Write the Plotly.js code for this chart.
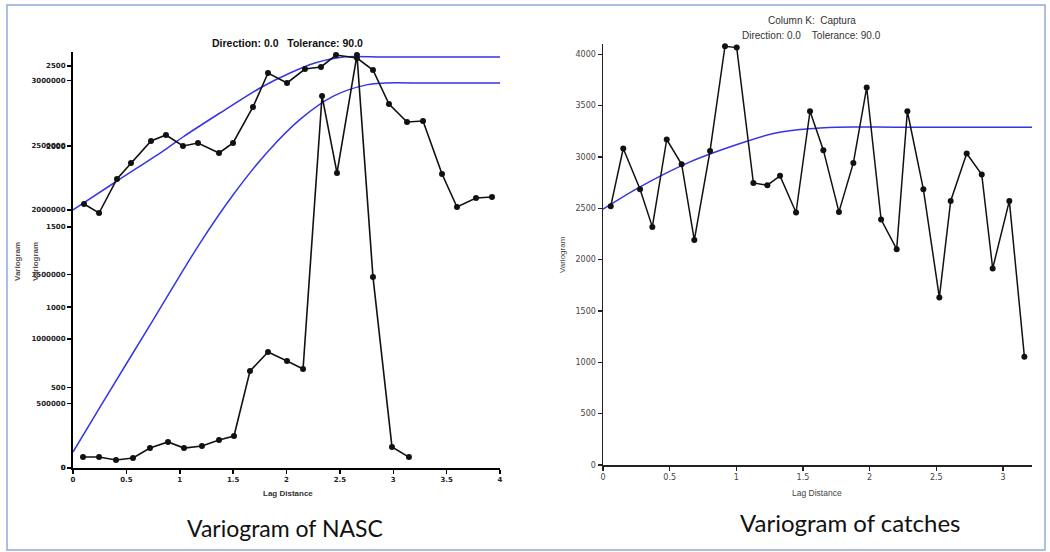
<!DOCTYPE html>
<html>
<head>
<meta charset="utf-8">
<script src="https://cdn.plot.ly/plotly-3.0.1.min.js"></script>
<style>html,body{margin:0;padding:0;background:#fff;}#chart{width:1050px;height:552px;}</style>
</head>
<body>
<div id="chart"></div>
<script>
// ---- Left panel (NASC): two overlaid variograms ----
// Series on the large scale (0 - 3 000 000)
const lagNascA = [0.103,0.244,0.412,0.543,0.731,0.871,1.030,1.171,1.368,1.499,1.686,1.827,2.005,2.173,2.323,2.464,2.660,2.810,2.960,3.129,3.279,3.457,3.597,3.775,3.925];
const gamNascA = [2044900,1975200,2238600,2362500,2532900,2579400,2494200,2517400,2440000,2517400,2796300,3059600,2982200,3090600,3106100,3199100,3175800,3082900,2819500,2680100,2687800,2277300,2021700,2091400,2099200];
const modelLagA = [0,0.412,0.871,1.03,1.377,1.752,2.033,2.267,2.53,2.9,3.4,4.0];
const modelGamA = [1998500,2223100,2470900,2563900,2749800,2943500,3059600,3137100,3183600,3183600,3183600,3183600];
// Series on the small scale (0 - 2500)
const lagNascB = [0.094,0.244,0.403,0.562,0.721,0.890,1.040,1.208,1.368,1.508,1.658,1.827,2.005,2.155,2.333,2.473,2.660,2.810,2.988,3.147];
const gamNascB = [68,68,50,62,124,162,124,137,174,199,603,721,665,616,2313,1835,2568,1188,131,68];
const modelLagB = [0,0.253,0.75,1.19,1.499,1.82,2.13,2.44,2.76,2.92,3.3,3.7,4.0];
const modelGamB = [99,379,920,1399,1698,1964,2170,2313,2384,2394,2394,2394,2394];
// Ticks
const xTicksL = [0,0.5,1,1.5,2,2.5,3,3.5,4];
const xTickTextL = ['0','0.5','1','1.5','2','2.5','3','3.5','4'];
const yTicksLA = [0,500,1000,1500,2000,2500];
const yTickTextLA = ['0','500','1000','1500','2000','2500'];
const yTicksLB = [0,500000,1000000,1500000,2000000,2500000,3000000];
const yTickTextLB = ['0','500000','1000000','1500000','2000000','2500000','3000000'];

// ---- Right panel (catches) ----
const lagCatch = [0.058,0.152,0.278,0.370,0.478,0.590,0.685,0.803,0.915,1.003,1.128,1.233,1.328,1.448,1.553,1.653,1.770,1.878,1.978,2.086,2.203,2.283,2.403,2.523,2.608,2.728,2.841,2.923,3.048,3.161];
const gamCatch = [2521,3082,2686,2319,3170,2929,2190,3059,4078,4065,2747,2725,2816,2459,3445,3066,2465,2942,3676,2391,2102,3445,2686,1632,2572,3034,2829,1914,2572,1054];
const modelLagC = [0,0.278,0.653,1.028,1.278,1.478,1.628,1.75,2.2,2.7,3.22];
const modelGamC = [2491,2709,2952,3131,3228,3267,3283,3290,3290,3290,3290];
const xTicksR = [0,0.5,1,1.5,2,2.5,3];
const xTickTextR = ['0','0.5','1','1.5','2','2.5','3'];
const yTicksR = [0,500,1000,1500,2000,2500,3000,3500,4000];
const yTickTextR = ['0','500','1000','1500','2000','2500','3000','3500','4000'];

const W = 1050, H = 552;
const px = v => v / W;
const py = v => 1 - v / H;

const blue = '#3535e8';
const modelLine = {color:blue, width:1.5, shape:'spline', smoothing:0.9};
const traces = [
  {x: modelLagA, y: modelGamA, xaxis:'x', yaxis:'y2', mode:'lines', line:modelLine, hoverinfo:'skip'},
  {x: modelLagB, y: modelGamB, xaxis:'x', yaxis:'y', mode:'lines', line:modelLine, hoverinfo:'skip'},
  {x: lagNascA, y: gamNascA, xaxis:'x', yaxis:'y2', mode:'lines+markers', line:{color:'#111', width:1.6}, marker:{color:'#111', size:6}, cliponaxis:false},
  {x: lagNascB, y: gamNascB, xaxis:'x', yaxis:'y', mode:'lines+markers', line:{color:'#111', width:1.6}, marker:{color:'#111', size:6}, cliponaxis:false},
  {x: modelLagC, y: modelGamC, xaxis:'x2', yaxis:'y3', mode:'lines', line:modelLine, hoverinfo:'skip'},
  {x: lagCatch, y: gamCatch, xaxis:'x2', yaxis:'y3', mode:'lines+markers', line:{color:'#111', width:1.5}, marker:{color:'#111', size:6}, cliponaxis:false}
];

const tickFontL = {family:'DejaVu Sans, sans-serif', size:7, color:'#222', weight:'bold'};
const tickFontR = {family:'DejaVu Sans, sans-serif', size:8, color:'#444'};
const axL = {showgrid:false, zeroline:false, showline:true, linecolor:'#000', linewidth:2, ticks:'outside', ticklen:4, tickwidth:1.5, tickcolor:'#000', tickfont:tickFontL, fixedrange:true};
const axR = {showgrid:false, zeroline:false, showline:true, linecolor:'#222', linewidth:1.5, ticks:'outside', ticklen:4, tickwidth:1.2, tickcolor:'#222', tickfont:tickFontR, fixedrange:true};

const layout = {
  width: W, height: H,
  margin: {l:0, r:0, t:0, b:0},
  paper_bgcolor:'#fff', plot_bgcolor:'rgba(0,0,0,0)',
  showlegend:false,
  xaxis: Object.assign({}, axL, {domain:[px(73), px(500)], range:[0,4], anchor:'y', tickmode:'array', tickvals:xTicksL, ticktext:xTickTextL}),
  yaxis: Object.assign({}, axL, {domain:[py(468), py(52)], range:[0,2587], anchor:'x', tickmode:'array', tickvals:yTicksLA, ticktext:yTickTextLA}),
  yaxis2: Object.assign({}, axL, {overlaying:'y', anchor:'x', side:'left', range:[0,3222300], tickmode:'array', tickvals:yTicksLB, ticktext:yTickTextLB}),
  xaxis2: Object.assign({}, axR, {domain:[px(603), px(1032)], range:[0,3.218], anchor:'y3', tickmode:'array', tickvals:xTicksR, ticktext:xTickTextR}),
  yaxis3: Object.assign({}, axR, {domain:[py(465), py(44)], range:[0,4100], anchor:'x2', tickmode:'array', tickvals:yTicksR, ticktext:yTickTextR}),
  shapes: [
    {type:'rect', xref:'paper', yref:'paper', x0:px(7), x1:px(1045), y0:py(550), y1:py(5), line:{color:'#8eaad8', width:1.5}, fillcolor:'rgba(0,0,0,0)'}
  ],
  annotations: [
    {text:'<b>Direction: 0.0   Tolerance: 90.0</b>', x:px(287), y:py(43), xref:'paper', yref:'paper', showarrow:false, xanchor:'center', yanchor:'middle', font:{family:'Liberation Sans, Arial, sans-serif', size:10.5, color:'#111'}},
    {text:'<b>Lag Distance</b>', x:px(288), y:py(493), xref:'paper', yref:'paper', showarrow:false, xanchor:'center', yanchor:'middle', font:{family:'Liberation Sans, Arial, sans-serif', size:8, color:'#333'}},
    {text:'<b>Variogram</b>', x:px(17), y:py(262), xref:'paper', yref:'paper', showarrow:false, textangle:-90, xanchor:'center', yanchor:'middle', font:{family:'Liberation Sans, Arial, sans-serif', size:8, color:'#555'}},
    {text:'<b>Variogram</b>', x:px(35), y:py(262), xref:'paper', yref:'paper', showarrow:false, textangle:-90, xanchor:'center', yanchor:'middle', font:{family:'Liberation Sans, Arial, sans-serif', size:8, color:'#555'}},
    {text:'Column K:  Captura', x:px(812), y:py(20), xref:'paper', yref:'paper', showarrow:false, xanchor:'center', yanchor:'middle', font:{family:'Liberation Sans, Arial, sans-serif', size:10, color:'#333'}},
    {text:'Direction: 0.0    Tolerance: 90.0', x:px(811), y:py(36), xref:'paper', yref:'paper', showarrow:false, xanchor:'center', yanchor:'middle', font:{family:'Liberation Sans, Arial, sans-serif', size:10, color:'#333'}},
    {text:'Lag Distance', x:px(817), y:py(493), xref:'paper', yref:'paper', showarrow:false, xanchor:'center', yanchor:'middle', font:{family:'Liberation Sans, Arial, sans-serif', size:8.5, color:'#444'}},
    {text:'Variogram', x:px(563), y:py(255), xref:'paper', yref:'paper', showarrow:false, textangle:-90, xanchor:'center', yanchor:'middle', font:{family:'Liberation Sans, Arial, sans-serif', size:8, color:'#444'}},
    {text:'Variogram of NASC', x:px(285), y:py(528), xref:'paper', yref:'paper', showarrow:false, xanchor:'center', yanchor:'middle', font:{family:'Lato, sans-serif', size:23, color:'#111'}},
    {text:'Variogram of catches', x:px(850), y:py(522), xref:'paper', yref:'paper', showarrow:false, xanchor:'center', yanchor:'middle', font:{family:'Lato, sans-serif', size:24, color:'#111'}}
  ]
};

Plotly.newPlot('chart', traces, layout, {staticPlot:true, displayModeBar:false});
</script>
</body>
</html>
